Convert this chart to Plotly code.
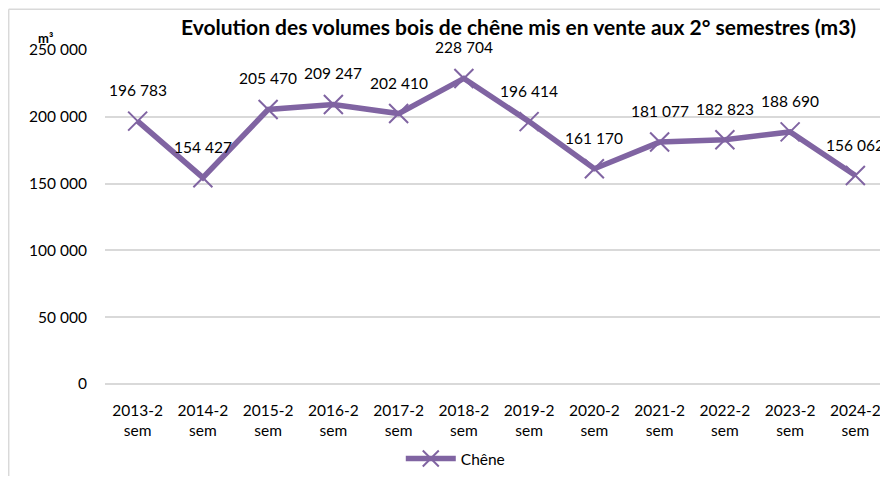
import plotly.graph_objects as go

categories = ["2013-2<br>sem", "2014-2<br>sem", "2015-2<br>sem", "2016-2<br>sem", "2017-2<br>sem",
              "2018-2<br>sem", "2019-2<br>sem", "2020-2<br>sem", "2021-2<br>sem", "2022-2<br>sem",
              "2023-2<br>sem", "2024-2<br>sem"]
chene = [196783, 154427, 205470, 209247, 202410, 228704, 196414, 161170, 181077, 182823, 188690, 156062]
y_ticks = [0, 50000, 100000, 150000, 200000, 250000]

title_text = "Evolution des volumes bois de chêne mis en vente aux 2° semestres (m3)"
series_name = "Chêne"
color = "#8064A2"
font_family = "Lato, Open Sans, sans-serif"

def fmt(v):
    return f"{v:,}".replace(",", " ")

fig = go.Figure()
fig.add_trace(go.Scatter(
    x=categories, y=chene, mode="lines+markers", name=series_name,
    line=dict(color=color, width=5.5),
    marker=dict(symbol="x-thin", size=19, line=dict(color=color, width=2), color=color),
))

annotations = []
for c, v in zip(categories, chene):
    annotations.append(dict(x=c, y=v, text=fmt(v), showarrow=False, yshift=31, yanchor="middle",
                            font=dict(size=15.5, color="#000000", family=font_family)))
annotations.append(dict(xref="paper", yref="paper", x=0.5275, y=1.0, yshift=24, yanchor="middle",
                        text="<b>" + title_text + "</b>",
                        showarrow=False, font=dict(size=21, color="#000000", family=font_family)))
annotations.append(dict(xref="paper", yref="paper", x=-0.088, y=1.0, yshift=12, yanchor="middle",
                        text="<b>m³</b>",
                        showarrow=False, font=dict(size=13, color="#000000", family=font_family)))

shapes = [
    dict(type="line", xref="paper", yref="paper", x0=-0.123, x1=1.05, y0=1.122, y1=1.122,
         line=dict(color="#D9D9D9", width=1.5)),
    dict(type="line", xref="paper", yref="paper", x0=-0.123, x1=-0.123, y0=1.122, y1=-0.35,
         line=dict(color="#D9D9D9", width=1.5)),
]

fig.update_layout(
    width=880, height=468,
    margin=dict(l=97, r=0, t=42, b=91),
    paper_bgcolor="white", plot_bgcolor="white",
    separators=", ",
    font=dict(family=font_family, size=15.5, color="#000000"),
    showlegend=True,
    legend=dict(orientation="h", x=0.448, xanchor="center", y=-0.226, yanchor="middle",
                font=dict(size=15.5, family=font_family), itemwidth=50),
    xaxis=dict(range=[-0.5, 11.5], showgrid=False, showline=False, ticks="", automargin=False,
               tickfont=dict(size=15.5)),
    yaxis=dict(range=[0, 250000], tickvals=y_ticks, tickformat=",d", showgrid=True, automargin=False,
               gridcolor="#D9D9D9", gridwidth=1.5, zeroline=True, zerolinecolor="#D9D9D9",
               zerolinewidth=1.5, ticks="", ticklen=0, tickfont=dict(size=15.5)),
    annotations=annotations, shapes=shapes,
)
fig.update_yaxes(ticklabelstandoff=17)
fig.update_xaxes(ticklabelstandoff=15)
fig.write_html("out.html")
